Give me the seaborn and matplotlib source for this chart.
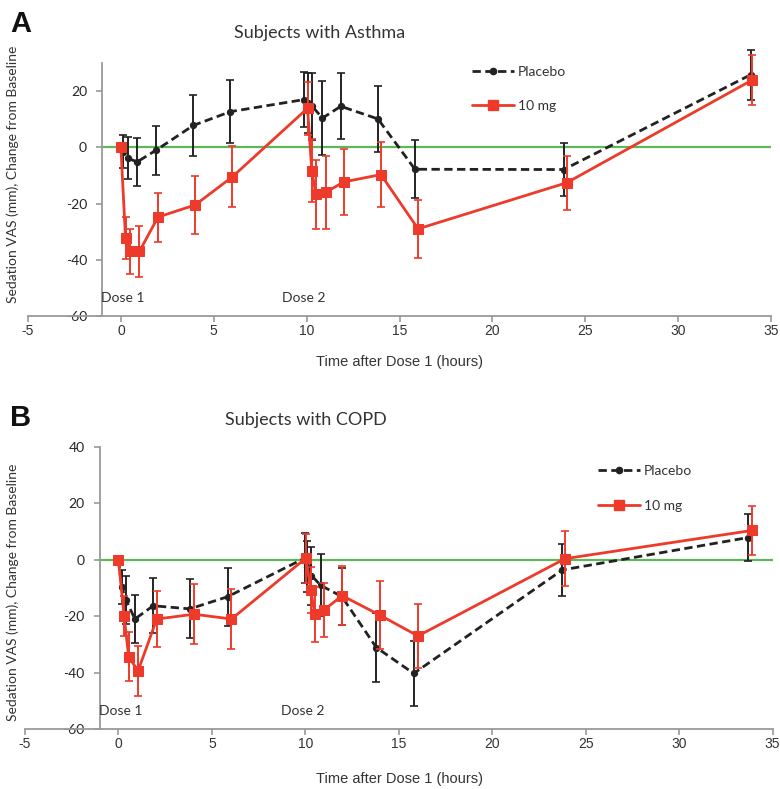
import matplotlib
matplotlib.use("Agg")
import matplotlib.pyplot as plt
import seaborn as sns
import pandas as pd
import numpy as np
from matplotlib.lines import Line2D

# ---------------- data ----------------
# Panel A: Asthma
a_pla_t = [0, 0.1, 0.36, 0.87, 1.9, 3.9, 5.9, 9.87, 10.1, 10.3, 10.85, 11.84, 13.84, 15.83, 23.84, 33.9]
a_pla_y = [0, -1.5, -3.8, -5.2, -1.0, 7.8, 12.7, 17.0, 15.8, 14.6, 10.4, 14.6, 10.1, -7.8, -7.9, 25.8]
a_pla_e = [0, 6.0, 7.6, 8.5, 8.7, 10.9, 11.3, 9.7, 10.8, 12.0, 13.2, 11.8, 11.8, 10.3, 9.5, 9.0]

a_mg_t = [0, 0.25, 0.5, 1, 2, 4, 6, 10.05, 10.28, 10.5, 11.03, 12, 14, 16, 24, 34]
a_mg_y = [0, -32.3, -37.0, -37.0, -24.8, -20.5, -10.5, 13.9, -8.4, -16.7, -16.0, -12.3, -9.7, -29.0, -12.6, 24.0]
a_mg_e = [0, 7.4, 8.1, 9.1, 8.7, 10.4, 10.9, 9.4, 11.2, 12.2, 12.9, 11.6, 11.6, 10.4, 9.6, 9.0]

# Panel B: COPD
b_pla_t = [0, 0.17, 0.4, 0.88, 1.86, 3.82, 5.84, 9.97, 10.1, 10.33, 10.83, 11.95, 13.8, 15.8, 23.75, 33.7]
b_pla_y = [0, -9.5, -14.2, -21.0, -16.3, -17.4, -13.1, 0.6, -2.5, -5.6, -9.1, -13.0, -31.1, -40.3, -3.6, 7.9]
b_pla_e = [0, 6.0, 8.4, 8.6, 9.8, 10.5, 10.3, 9.0, 9.0, 10.3, 11.0, 10.0, 12.1, 11.6, 9.3, 8.3]

b_mg_t = [0, 0.3, 0.55, 1.05, 2.05, 4.05, 6.05, 10.03, 10.3, 10.5, 11.0, 11.97, 13.98, 16.03, 23.9, 33.9]
b_mg_y = [0, -19.8, -34.4, -39.4, -21.0, -19.3, -21.0, 0.6, -10.7, -19.3, -17.8, -12.7, -19.6, -27.0, 0.4, 10.4]
b_mg_e = [0, 7.1, 8.7, 8.8, 10.0, 10.6, 10.6, 8.7, 8.0, 9.7, 9.6, 10.4, 12.2, 11.5, 9.7, 8.6]

x_ticks = [-5, 0, 5, 10, 15, 20, 25, 30, 35]
a_yticks = [-60, -40, -20, 0, 20]
b_yticks = [-60, -40, -20, 0, 20, 40]
series_labels = ["Placebo", "10 mg"]

# ---------------- style ----------------
sns.set_style("white")
plt.rcParams['font.family'] = ['Lato', 'DejaVu Sans']

RED = "#EE3A2A"
BLK = "#222222"
GREEN = "#5DB85A"
SPINE = "#9A9A9A"
TXT = "#333333"

fig = plt.figure(figsize=(7.8, 7.89), dpi=100)
W, H = 780, 789

def axes_px(l, r, t, b):
    return fig.add_axes([l / W, 1 - b / H, (r - l) / W, (b - t) / H])

axA = axes_px(28, 771, 63, 316)
axB = axes_px(25, 772.5, 447, 729)

def draw(ax, pla, mg, ymax, yticks, leg_anchor, title, title_xy, letter_xy, letter, xlabel_y):
    pt, py, pe = pla
    mt, my, me = mg
    dfp = pd.DataFrame({"t": pt, "v": py})
    dfm = pd.DataFrame({"t": mt, "v": my})
    ax.axhline(0, xmin=4 / 40, xmax=1, color=GREEN, lw=1.6, zorder=1)
    sns.lineplot(data=dfp, x="t", y="v", ax=ax, color=BLK, lw=2.0, linestyle=(0, (3, 1.6)),
                 marker="o", markersize=4.5, markeredgecolor=BLK, sort=False, zorder=3, estimator=None)
    eb = ax.errorbar(pt[1:], py[1:], yerr=pe[1:], fmt="none", ecolor=BLK, elinewidth=1.4,
                     capsize=3, capthick=1.2, zorder=2.5)
    for art in eb.lines[1] + eb.lines[2]:
        art.set_clip_on(False)
    sns.lineplot(data=dfm, x="t", y="v", ax=ax, color=RED, lw=2.0,
                 marker="s", markersize=7, markeredgecolor=RED, sort=False, zorder=4, estimator=None)
    eb = ax.errorbar(mt[1:], my[1:], yerr=me[1:], fmt="none", ecolor=RED, elinewidth=1.4,
                     capsize=3, capthick=1.2, zorder=3.5)
    for art in eb.lines[1] + eb.lines[2]:
        art.set_clip_on(False)

    ax.set_xlim(-5, 35)
    ax.set_ylim(-60, ymax)
    ax.set_xticks(x_ticks)
    ax.set_xticklabels([str(v) for v in x_ticks], family=['Liberation Sans Narrow', 'Liberation Sans'],
                       fontsize=10, color=TXT)
    ax.set_yticks(yticks)
    ax.set_yticklabels([str(v) for v in yticks], fontsize=10.5, color=TXT)
    for s in ["top", "right"]:
        ax.spines[s].set_visible(False)
    ax.spines["left"].set_position(("data", -1))
    for s in ["left", "bottom"]:
        ax.spines[s].set_color(SPINE)
        ax.spines[s].set_linewidth(1.3)
    ax.tick_params(axis="both", which="both", direction="out", length=4, width=1.2,
                   color=SPINE, left=True, bottom=True)
    ax.tick_params(axis="x", pad=1.5)
    ax.tick_params(axis="y", pad=7)
    ax.set_xlabel("")
    ax.set_ylabel("")

    ax.text(-1.05, -53.5, "Dose 1", fontsize=10, color=TXT, ha="left", va="center")
    ax.text(8.7, -53.5, "Dose 2", fontsize=10, color=TXT, ha="left", va="center")

    handles = [
        Line2D([], [], color=BLK, lw=2.0, linestyle=(0, (3, 1.6)), marker="o", markersize=4.5),
        Line2D([], [], color=RED, lw=2.0, marker="s", markersize=7),
    ]
    leg = ax.legend(handles, series_labels, loc="upper left", bbox_to_anchor=leg_anchor,
                    frameon=False, fontsize=10, handlelength=3.0, handletextpad=0.3,
                    labelspacing=1.6, borderpad=0, borderaxespad=0)
    for t in leg.get_texts():
        t.set_color(TXT)

    fig.text(title_xy[0] / W, 1 - title_xy[1] / H, title, fontsize=13, color=TXT,
             ha="center", va="center")
    fig.text(letter_xy[0] / W, 1 - letter_xy[1] / H, letter, fontsize=21, fontweight="bold",
             family=['Liberation Sans', 'DejaVu Sans'], color="#111111", ha="left", va="center")
    fig.text(400 / W, 1 - xlabel_y / H, "Time after Dose 1 (hours)", fontsize=10.5, color=TXT,
             family=['Liberation Sans Narrow', 'Liberation Sans'], ha="center", va="center")

draw(axA, (a_pla_t, a_pla_y, a_pla_e), (a_mg_t, a_mg_y, a_mg_e), 30, a_yticks,
     (0.598, 0.99), "Subjects with Asthma", (320, 33), (10, 24), "A", 362)
draw(axB, (b_pla_t, b_pla_y, b_pla_e), (b_mg_t, b_mg_y, b_mg_e), 40, b_yticks,
     (0.767, 0.935), "Subjects with COPD", (306, 420), (10, 418), "B", 779)

fig.text(13 / W, 1 - 174 / H, "Sedation VAS (mm), Change from Baseline", rotation=90,
         fontsize=10, color=TXT, ha="center", va="center")
fig.text(13 / W, 1 - 592 / H, "Sedation VAS (mm), Change from Baseline", rotation=90,
         fontsize=10, color=TXT, ha="center", va="center")

fig.savefig("out.png", dpi=100)
